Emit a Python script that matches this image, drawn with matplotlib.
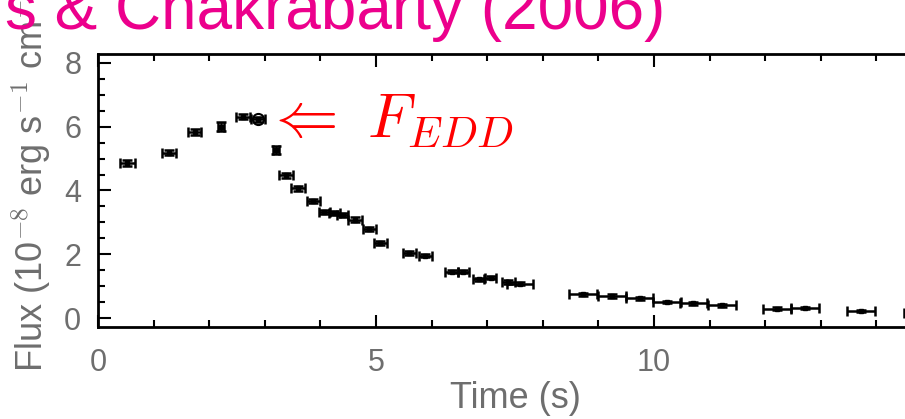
import matplotlib.pyplot as plt
import numpy as np

# burst light curve
time = [0.53, 1.28, 1.74, 2.21, 2.61, 2.88, 3.20, 3.38, 3.60, 3.87, 4.07, 4.25,
        4.40, 4.62, 4.88, 5.08, 5.60, 5.89, 6.36, 6.57, 6.85, 7.06, 7.38, 7.59,
        8.73, 9.24, 9.74, 10.23, 10.71, 11.23, 12.21, 12.72, 13.73, 14.75]
flux = [4.87, 5.19, 5.84, 6.00, 6.31, 6.23, 5.27, 4.48, 4.07, 3.67, 3.32, 3.30,
        3.24, 3.09, 2.79, 2.36, 2.05, 1.96, 1.45, 1.45, 1.22, 1.27, 1.13, 1.08,
        0.75, 0.69, 0.62, 0.51, 0.46, 0.40, 0.30, 0.31, 0.22, 0.16]
t_err = [0.13, 0.12, 0.12, 0.05, 0.12, 0.12, 0.06, 0.12, 0.12, 0.12, 0.1, 0.1,
         0.1, 0.12, 0.12, 0.12, 0.12, 0.12, 0.12, 0.1, 0.1, 0.1, 0.12, 0.24,
         0.25, 0.25, 0.25, 0.25, 0.25, 0.25, 0.25, 0.25, 0.25, 0.25]
f_err = [0.10, 0.09, 0.09, 0.15, 0.08, 0.09, 0.12, 0.08, 0.08, 0.07, 0.07, 0.07,
         0.07, 0.07, 0.06, 0.06, 0.06, 0.06, 0.05, 0.05, 0.05, 0.05, 0.05, 0.05,
         0.05, 0.05, 0.04, 0.04, 0.04, 0.04, 0.04, 0.04, 0.04, 0.04]
peak = 5  # index of the circled point

grey = "#6e6e6e"
plt.rcParams["font.family"] = ["Liberation Sans", "DejaVu Sans"]
plt.rcParams["mathtext.fontset"] = "cm"

fig = plt.figure(figsize=(9.05, 4.19), dpi=100)
ax = fig.add_axes([98/905, 1-327/419, (932-98)/905, (327-54)/419])

ax.errorbar(time, flux, xerr=t_err, yerr=f_err, fmt="s", ms=3, color="black",
            elinewidth=1.8, capsize=3.5, capthick=1.8)
ax.plot(time[peak], flux[peak], "o", ms=8, mfc="none", mec="black", mew=1.5)

ax.set_xlim(0, 15)
ax.set_ylim(-0.28, 8.28)
ax.set_xticks([0, 5, 10, 15])
ax.set_xticks(np.arange(0, 16, 1), minor=True)
ax.set_yticks([0, 2, 4, 6, 8])
ax.set_yticks(np.arange(0, 8.5, 0.5), minor=True)
ax.tick_params(which="both", direction="in", top=True, right=True, width=1.5,
               labelsize=22, labelcolor=grey)
ax.tick_params(axis="x", pad=15)
ax.tick_params(axis="y", pad=12)
ax.tick_params(which="major", length=9)
ax.tick_params(which="minor", length=5)
for s in ax.spines.values():
    s.set_linewidth(2)

ax.set_xlabel("Time (s)", fontsize=26, color=grey, labelpad=2)
ax.set_ylabel(r"Flux (10$^{-8}$ erg s$^{-1}$ cm$^{-2}$)", fontsize=26,
              color=grey, loc="bottom")
ax.yaxis.set_label_coords(-0.054, -0.165)

ax.text(3.0, 6.18, r"$\Leftarrow\ F_{EDD}$", color="red", fontsize=45,
        va="center", ha="left")

fig.text(665/905, 1-29/419, "s & Chakrabarty (2006)", color="#ec008c",
         fontsize=46, ha="right", va="baseline")

fig.savefig("out.png", dpi=100)
